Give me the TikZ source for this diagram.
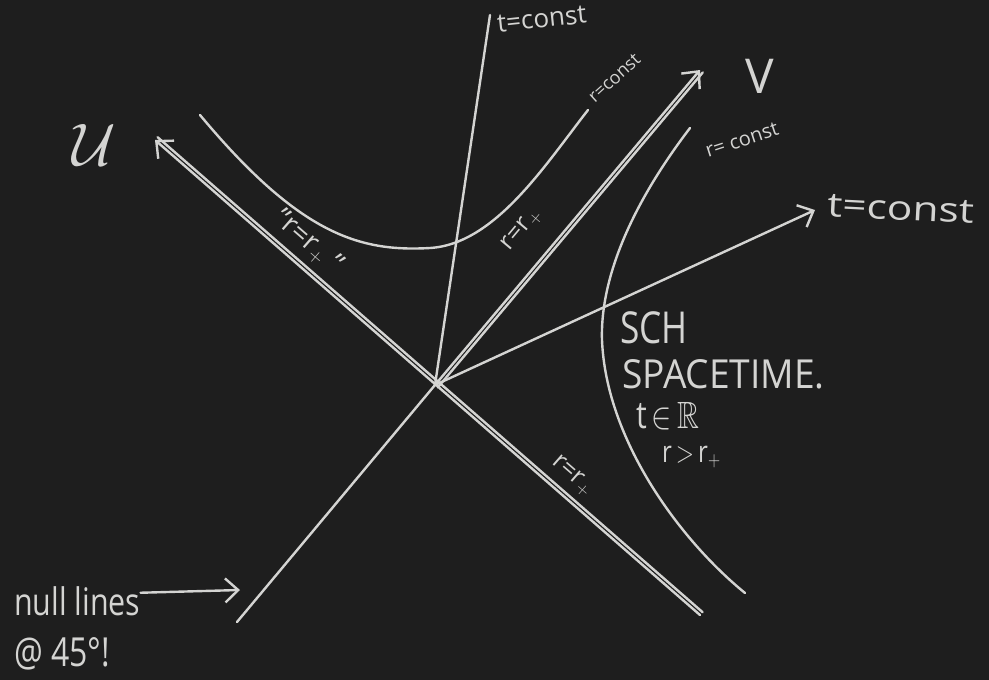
\RequirePackage{fix-cm}
\documentclass[tikz,border=0pt]{standalone}
\usepackage{amssymb}
\usepackage{fontspec}
\setmainfont{Open Sans}
\usetikzlibrary{arrows.meta}
\definecolor{board}{RGB}{30,30,30}
\definecolor{chalk}{RGB}{212,212,210}

\begin{document}
\begin{tikzpicture}[x=1pt, y=-1pt,
  line/.style={draw=chalk, line width=2.4pt, line cap=round},
  tip/.style={-{Straight Barb[length=13pt, width=24pt, line width=2.4pt]}},
  note/.style={text=chalk, inner sep=1pt, font=\fontsize{20}{24}\selectfont},
  hand/.style={text=chalk, inner sep=0pt, anchor=base west, xscale=0.8, font=\fontsize{44}{50}\selectfont}
]
\fill[board] (0,0) rectangle (989,680);

\coordinate (O) at (435,385);
\coordinate (Utip) at (155,140);
\coordinate (Uend) at (700,615);
\coordinate (Vtip) at (700,70);
\coordinate (Vend) at (237,622);
\coordinate (tup) at (490,15);
\coordinate (tright) at (815,210);

\draw[line, tip] (Uend) -- (Utip);
\draw[line] ([xshift=2.6pt, yshift=2.8pt]Uend) -- ([xshift=2.6pt, yshift=2.8pt]Utip);
\draw[line] (Vend) -- (O);
\draw[line, tip] (O) -- (Vtip);
\draw[line] ([xshift=2.8pt, yshift=-2.4pt]O) -- ([xshift=2.8pt, yshift=-2.4pt]Vtip);
\draw[line] (O) -- (tup);
\draw[line, tip] (O) -- (tright);

\draw[line] (200,115) .. controls (300,235) and (360,252) .. (430,248)
  .. controls (495,244) and (545,165) .. (588,110);
\draw[line] (690,128) .. controls (635,200) and (600,275) .. (602,340)
  .. controls (606,440) and (680,540) .. (745,593);

\node[note, anchor=west, rotate=6, font=\fontsize{26}{30}\selectfont] (tconstup) at (496,24) {t=const};
\node[note, anchor=west, rotate=-3, xscale=1.25, font=\fontsize{34}{38}\selectfont] (tconstright) at (826,205) {t=const};
\node[note, anchor=west, rotate=42, font=\fontsize{18}{20}\selectfont] (rconstup) at (590,100) {r=const};
\node[note, rotate=18] (rconstright) at (742,140) {r= const};
\node[note, rotate=50, font=\fontsize{25}{28}\selectfont] (rVlabel) at (522,230) {r=r$_+$};
\node[note, rotate=-41, font=\fontsize{28}{32}\selectfont] (rUup) at (308,242) {"r=r$_+$ "};
\node[note, rotate=-41, font=\fontsize{25}{28}\selectfont] (rUdown) at (572,476) {r=r$_+$};

\node[text=chalk, font=\fontsize{60}{66}\selectfont] (Ulabel) at (94,145) {$\mathcal{U}$};
\node[text=chalk, font=\fontsize{48}{54}\selectfont] (Vlabel) at (760,76) {V};

\node[hand] (sch) at (620,343) {SCH};
\node[hand, xscale=1.16, font=\fontsize{40}{46}\selectfont] (spacetime) at (622,388) {SPACETIME.};
\node[hand, font=\fontsize{38}{44}\selectfont] (tinR) at (636,428) {t\,$\in$\,$\mathbb{R}$};
\node[hand, font=\fontsize{30}{36}\selectfont] (rbig) at (662,462) {r\,$>$\,r$_+$};

\node[hand, font=\fontsize{38}{44}\selectfont] (null) at (14,615) {null lines};
\node[hand, font=\fontsize{40}{46}\selectfont] (deg) at (14,666) {@ 45°!};
\coordinate (nulltip) at (240,590);
\draw[line, tip] ([yshift=8pt]null.east) -- (nulltip);
\end{tikzpicture}
\end{document}
